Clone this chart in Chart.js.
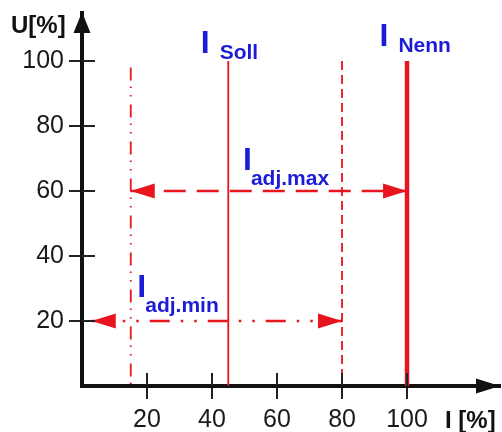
<!DOCTYPE html>
<html><head><meta charset="utf-8">
<script src="https://cdn.jsdelivr.net/npm/chart.js@4/dist/chart.umd.min.js"></script>
<style>html,body{margin:0;padding:0;background:#fff}#wrap{width:502px;height:432px;position:relative}</style>
</head><body><div id="wrap"><canvas id="c"></canvas></div>
<script>
// ---- data ----
const xTickValues = [20, 40, 60, 80, 100];
const yTickValues = [20, 40, 60, 80, 100];
const xAxisMax = 128.6;
const yAxisMax = 114.8;
const iAdjMinX = 15, iSollX = 45, iAdjMaxX = 80, iNennX = 100;
const adjMinTop = 98, lineTop = 100;
const arrowMaxRange = [15, 100], arrowMaxU = 60;
const arrowMinRange = [3, 80], arrowMinU = 20;
const noteMain = ['I', 'I', 'I', 'I'];
const noteSub = ['Soll', 'Nenn', 'adj.max', 'adj.min'];
const noteX = [36.5, 91.5, 49.5, 17];
const noteY = [102.5, 104.5, 66.5, 27.5];

// ---- styles ----
const RED = '#e8141e';
const BLUE = '#1c1cd8';
const INK = '#111';
const FONT = "'Liberation Sans', Arial, sans-serif";

const datasets = [
  {data:[{x:iAdjMinX,y:adjMinTop},{x:iAdjMinX,y:0}], borderColor:RED, borderWidth:1.8, borderDash:[13,6,1.5,7,1.5,8]},
  {data:[{x:iSollX,y:lineTop},{x:iSollX,y:0}], borderColor:RED, borderWidth:1.8},
  {data:[{x:iAdjMaxX,y:lineTop},{x:iAdjMaxX,y:0}], borderColor:RED, borderWidth:1.8, borderDash:[9,5]},
  {data:[{x:iNennX,y:lineTop},{x:iNennX,y:0}], borderColor:RED, borderWidth:4.5},
  {data:[{x:arrowMaxRange[0],y:arrowMaxU},{x:arrowMaxRange[1],y:arrowMaxU}], borderColor:RED, borderWidth:2.5, borderDash:[22,11], arrows:true},
  {data:[{x:arrowMinRange[0],y:arrowMinU},{x:arrowMinRange[1],y:arrowMinU}], borderColor:RED, borderWidth:2.5, borderDash:[20,11,2.5,11,2.5,11], arrows:true}
].map(d => Object.assign({showLine:true, pointRadius:0, pointHoverRadius:0, fill:false, tension:0}, d));

const decor = {
  id:'decor',
  afterDatasetsDraw(chart){
    const ctx = chart.ctx, ca = chart.chartArea;
    const xs = chart.scales.x, ys = chart.scales.y;
    ctx.save();
    chart.data.datasets.forEach((ds, i) => {
      if (!ds.arrows) return;
      const pts = chart.getDatasetMeta(i).data;
      const a = pts[0], b = pts[pts.length-1];
      const head = (tip, from) => {
        const ang = Math.atan2(tip.y-from.y, tip.x-from.x);
        const L = 24, W = 7.5;
        ctx.beginPath();
        ctx.moveTo(tip.x, tip.y);
        ctx.lineTo(tip.x - L*Math.cos(ang) - W*Math.sin(ang), tip.y - L*Math.sin(ang) + W*Math.cos(ang));
        ctx.lineTo(tip.x - L*Math.cos(ang) + W*Math.sin(ang), tip.y - L*Math.sin(ang) - W*Math.cos(ang));
        ctx.closePath();
        ctx.fillStyle = ds.borderColor;
        ctx.fill();
      };
      head(a, b); head(b, a);
    });
    ctx.strokeStyle = '#222'; ctx.lineWidth = 2;
    xs.ticks.forEach(t => {
      const px = Math.round(xs.getPixelForValue(t.value));
      ctx.beginPath(); ctx.moveTo(px, ca.bottom); ctx.lineTo(px, ca.bottom-13); ctx.stroke();
    });
    ys.ticks.forEach(t => {
      const py = Math.round(ys.getPixelForValue(t.value));
      ctx.beginPath(); ctx.moveTo(ca.left, py); ctx.lineTo(ca.left+13, py); ctx.stroke();
    });
    ctx.fillStyle = INK;
    ctx.fillRect(ca.left-2, ca.bottom-2, 4, 4);
    ctx.beginPath();
    ctx.moveTo(ca.left, ca.top-1); ctx.lineTo(ca.left-8.5, ca.top+20); ctx.lineTo(ca.left+8.5, ca.top+20); ctx.closePath(); ctx.fill();
    ctx.beginPath();
    ctx.moveTo(ca.right, ca.bottom); ctx.lineTo(ca.right-24, ca.bottom-7.5); ctx.lineTo(ca.right-24, ca.bottom+7.5); ctx.closePath(); ctx.fill();
    ctx.fillStyle = INK;
    ctx.font = 'bold 24px ' + FONT;
    ctx.textBaseline = 'alphabetic'; ctx.textAlign = 'left';
    ctx.fillText('U[%]', 11, 33);
    ctx.fillText('I [%]', 445, 428);
    ctx.fillStyle = BLUE;
    noteMain.forEach((m, i) => {
      const px = xs.getPixelForValue(noteX[i]);
      const py = ys.getPixelForValue(noteY[i]);
      ctx.font = 'bold 32px ' + FONT;
      ctx.fillText(m, px, py);
      ctx.font = 'bold 21px ' + FONT;
      const dx = i < 2 ? 19 : 8;
      const dy = i < 2 ? 6 : 15;
      ctx.fillText(noteSub[i], px + dx, py + dy);
    });
    ctx.restore();
  }
};

const tickFont = {family: FONT, size: 25};
new Chart(document.getElementById('c'), {
  type: 'scatter',
  data: {datasets},
  options: {
    responsive: true, maintainAspectRatio: false, animation: false,
    layout: {padding: {top: 13, right: 2, left: 0, bottom: 0}},
    plugins: {legend: {display: false}, tooltip: {enabled: false}},
    scales: {
      x: {
        type: 'linear', min: 0, max: xAxisMax,
        afterBuildTicks: s => { s.ticks = xTickValues.map(v => ({value: v})); },
        afterFit: s => { s.height = 46; s.paddingLeft = 0; s.paddingRight = 0; },
        ticks: {color: '#1a1a1a', font: tickFont, padding: 6, maxRotation: 0, autoSkip: false},
        grid: {drawOnChartArea: false, drawTicks: true, tickLength: 13, color: '#222', lineWidth: 2},
        border: {display: true, color: INK, width: 4}
      },
      y: {
        type: 'linear', min: 0, max: yAxisMax,
        afterBuildTicks: s => { s.ticks = yTickValues.map(v => ({value: v})); },
        afterFit: s => { s.width = 82; s.paddingTop = 0; s.paddingBottom = 0; },
        ticks: {color: '#1a1a1a', font: tickFont, padding: 5, autoSkip: false},
        grid: {drawOnChartArea: false, drawTicks: true, tickLength: 13, color: '#222', lineWidth: 2},
        border: {display: true, color: INK, width: 4}
      }
    }
  },
  plugins: [decor]
});
</script>
</body></html>
